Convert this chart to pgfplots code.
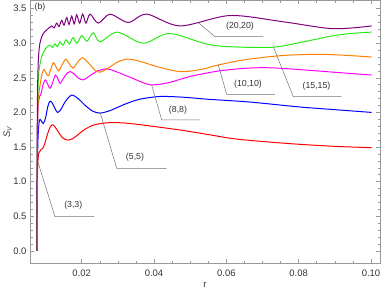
\documentclass[border=0pt]{standalone}
\usepackage{fontspec}
\setmainfont{Liberation Sans}
\usepackage{pgfplots}
\pgfplotsset{compat=1.18}
\definecolor{mPurple}{rgb}{0.5,0,0.5}
\definecolor{mGreen}{RGB}{40,235,20}
\definecolor{mOrange}{rgb}{1,0.5,0}
\definecolor{mMagenta}{rgb}{1,0,1}
\definecolor{mBlue}{rgb}{0,0,1}
\definecolor{mRed}{rgb}{1,0,0}
\definecolor{frameGray}{gray}{0.6}
\definecolor{callGray}{gray}{0.45}
\begin{document}
\begin{tikzpicture}
\useasboundingbox (0,0) rectangle (382bp,300bp);
\begin{axis}[
  at={(30bp,36.7bp)}, anchor=south west,
  scale only axis, width=350bp, height=263bp,
  xmin=0.0057, xmax=0.1025, ymin=-0.18, ymax=3.62,
  xtick={0.02,0.04,0.06,0.08,0.1},
  xticklabels={0.02,0.04,0.06,0.08,0.10},
  minor x tick num=3,
  ytick={0,0.5,1,1.5,2,2.5,3,3.5},
  yticklabels={0.0,0.5,1.0,1.5,2.0,2.5,3.0,3.5},
  minor y tick num=4,
  tick align=inside,
  major tick length=4bp, minor tick length=2.5bp,
  axis line style={frameGray, line width=0.6pt},
  every tick/.style={frameGray, line width=0.5pt},
  tick label style={font=\fontsize{9.5}{11}\selectfont, text=black!80},
  xticklabel style={yshift=-3bp},
  /pgf/number format/assume math mode=true,
  xlabel={r}, ylabel={\textit{S}\textsubscript{\textit{V}}},
  xlabel style={at={(axis description cs:0.5,-0.0825)}, anchor=center, font=\fontsize{9.5}{11}\selectfont, text=black!80},
  ylabel style={at={(axis description cs:-0.0643,0.5)}, anchor=center, font=\fontsize{9.5}{11}\selectfont, text=black!80},
  every axis plot/.append style={line width=1pt, smooth},
]
% (3,3) red
\addplot[mRed] coordinates {
(0.00757,0) (0.0077,0.9) (0.0079,1.3) (0.0082,1.42) (0.0087,1.46) (0.0092,1.48)
(0.0098,1.55) (0.0105,1.68) (0.0112,1.78) (0.0118,1.82) (0.0125,1.80) (0.0135,1.72)
(0.0148,1.63) (0.0162,1.60) (0.0175,1.62) (0.019,1.68) (0.021,1.76) (0.0235,1.82)
(0.027,1.85) (0.031,1.85) (0.035,1.83) (0.041,1.79) (0.048,1.74) (0.055,1.68)
(0.062,1.62) (0.07,1.58) (0.08,1.54) (0.09,1.51) (0.1002,1.49)};
% (5,5) blue
\addplot[mBlue] coordinates {
(0.00757,0) (0.0077,1.0) (0.0079,1.6) (0.0082,1.85) (0.0085,1.90) (0.0089,1.87)
(0.0094,1.84) (0.0100,1.92) (0.0106,2.08) (0.0112,2.16) (0.0118,2.14) (0.0125,2.07)
(0.0133,2.00) (0.0142,2.04) (0.0155,2.16) (0.0172,2.25) (0.0190,2.20) (0.021,2.10)
(0.023,2.02) (0.0251,1.99) (0.028,2.03) (0.032,2.12) (0.036,2.19) (0.0416,2.23)
(0.048,2.22) (0.055,2.19) (0.0665,2.15) (0.08,2.08) (0.09,2.04) (0.1002,2.0)};
% (8,8) magenta
\addplot[mMagenta] coordinates {
(0.00757,0) (0.0077,1.2) (0.0079,2.0) (0.0083,2.22) (0.0088,2.28) (0.0093,2.40)
(0.0099,2.47) (0.0105,2.42) (0.0112,2.35) (0.0119,2.42) (0.0127,2.54) (0.0134,2.49)
(0.0140,2.42) (0.0148,2.48) (0.0160,2.57) (0.0168,2.59) (0.0178,2.56) (0.0190,2.50)
(0.0204,2.47) (0.0220,2.52) (0.024,2.59) (0.0267,2.63) (0.029,2.60) (0.0333,2.51)
(0.0389,2.40) (0.044,2.43) (0.05,2.52) (0.058,2.60) (0.066,2.64) (0.072,2.645)
(0.08,2.62) (0.09,2.58) (0.1002,2.54)};
% (10,10) orange
\addplot[mOrange] coordinates {
(0.00757,0) (0.0077,1.3) (0.0079,2.1) (0.0085,2.40) (0.0090,2.55) (0.0096,2.62)
(0.0102,2.56) (0.0108,2.53) (0.0115,2.63) (0.0122,2.72) (0.0129,2.66) (0.0136,2.60)
(0.0145,2.68) (0.0156,2.77) (0.0166,2.70) (0.0176,2.64) (0.0188,2.72) (0.0202,2.79)
(0.0218,2.72) (0.0235,2.62) (0.0250,2.58) (0.0270,2.63) (0.030,2.73) (0.0327,2.77)
(0.036,2.74) (0.041,2.66) (0.0472,2.59) (0.053,2.62) (0.0578,2.686) (0.065,2.76)
(0.075,2.82) (0.085,2.84) (0.093,2.825) (0.1002,2.80)};
% (15,15) green
\addplot[mGreen] coordinates {
(0.00757,0) (0.0077,1.5) (0.0080,2.47) (0.0089,2.80) (0.0103,2.94) (0.01123,2.97)
(0.01192,2.94) (0.01261,2.99) (0.0133,2.95) (0.0140,3.02) (0.01483,2.97) (0.01566,3.05)
(0.01662,2.99) (0.01759,3.08) (0.01870,3.00) (0.01999,3.11) (0.02146,3.03) (0.0232,3.15)
(0.02506,3.02) (0.02984,3.16) (0.03703,3.00) (0.04442,3.14) (0.05631,2.97) (0.07207,2.94)
(0.0804,3.01) (0.0887,3.10) (0.0942,3.14) (0.1002,3.16)};
% (20,20) purple
\addplot[mPurple] coordinates {
(0.00757,0) (0.0077,1.8) (0.0079,2.6) (0.0083,2.95) (0.0090,3.1) (0.0097,3.16)
(0.0105,3.20) (0.01170,3.25) (0.01234,3.22) (0.01308,3.29) (0.01372,3.24) (0.01447,3.33)
(0.0151,3.26) (0.01585,3.37) (0.01649,3.27) (0.01723,3.39) (0.01792,3.28) (0.01861,3.41)
(0.01944,3.29) (0.02027,3.42) (0.02119,3.29) (0.0223,3.42) (0.02459,3.29) (0.02782,3.42)
(0.03288,3.30) (0.03797,3.42) (0.04718,3.25) (0.06101,3.40) (0.07567,3.31) (0.0895,3.21)
(0.1002,3.25)};
% callouts
\draw[callGray, line width=0.5pt] (axis cs:0.0080,1.265) -- (axis cs:0.01261,0.493) -- (axis cs:0.02348,0.493);
\draw[callGray, line width=0.5pt] (axis cs:0.02506,2.006) -- (axis cs:0.02968,1.193) -- (axis cs:0.0435,1.193);
\draw[callGray, line width=0.5pt] (axis cs:0.03935,2.397) -- (axis cs:0.04212,1.891) -- (axis cs:0.05271,1.891);
\draw[callGray, line width=0.5pt] (axis cs:0.05777,2.686) -- (axis cs:0.0601,2.262) -- (axis cs:0.07345,2.262);
\draw[callGray, line width=0.5pt] (axis cs:0.07298,2.95) -- (axis cs:0.07852,2.227) -- (axis cs:0.0919,2.227);
\draw[callGray, line width=0.5pt] (axis cs:0.05224,3.297) -- (axis cs:0.05686,3.095) -- (axis cs:0.07022,3.095);
\begin{scope}[every node/.style={font=\fontsize{8.8}{10}\selectfont, text=black!80, inner sep=0pt}]
\node at (axis cs:0.01767,0.6625) {(3,3)};
\node at (axis cs:0.03474,1.356) {(5,5)};
\node at (axis cs:0.04663,2.035) {(8,8)};
\node at (axis cs:0.06599,2.411) {(10,10)};
\node at (axis cs:0.08493,2.382) {(15,15)};
\node at (axis cs:0.06378,3.249) {(20,20)};
\node at (axis cs:0.00847,3.524) {(b)};
\end{scope}
\end{axis}
\end{tikzpicture}
\end{document}
